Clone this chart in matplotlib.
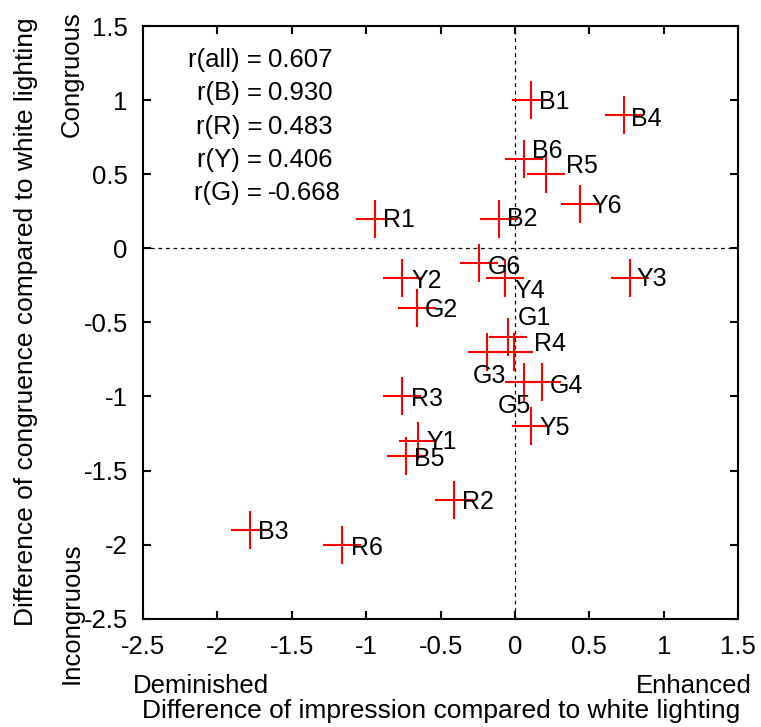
import matplotlib
matplotlib.use("Agg")
import matplotlib.pyplot as plt

plt.rcParams['font.family'] = ['Liberation Sans', 'DejaVu Sans']

# stimulus labels and values
names = ['B1', 'B2', 'B3', 'B4', 'B5', 'B6',
         'R1', 'R2', 'R3', 'R4', 'R5', 'R6',
         'Y1', 'Y2', 'Y3', 'Y4', 'Y5', 'Y6',
         'G1', 'G2', 'G3', 'G4', 'G5', 'G6']
impression = [0.11, -0.11, -1.78, 0.73, -0.73, 0.06,
              -0.94, -0.41, -0.76, -0.01, 0.21, -1.16,
              -0.65, -0.76, 0.77, -0.07, 0.11, 0.44,
              -0.05, -0.66, -0.19, 0.18, 0.06, -0.24]
congruence = [1.0, 0.2, -1.9, 0.9, -1.4, 0.6,
              0.2, -1.7, -1.0, -0.7, 0.5, -2.0,
              -1.3, -0.2, -0.2, -0.2, -1.2, 0.3,
              -0.6, -0.4, -0.7, -0.9, -0.9, -0.1]

r_names = ['r(all) =', 'r(B) =', 'r(R) =', 'r(Y) =', 'r(G) =']
r_values = ['0.607', '0.930', '0.483', '0.406', '-0.668']

ticks = [-2.5, -2, -1.5, -1, -0.5, 0, 0.5, 1, 1.5]
tick_labels = ['-2.5', '-2', '-1.5', '-1', '-0.5', '0', '0.5', '1', '1.5']

# label offsets in pixels (dx, dy) from the cross centre
offsets = [(8, -4), (8, -2), (8, -4), (7, -6), (8, -5), (8, 6),
           (8, -3), (8, -4), (9, -5), (20, 6), (20, 6), (9, -5),
           (8, -3), (10, -5), (7, -3), (10, -15), (8, -4), (11, -4),
           (10, 17), (8, -4), (-14, -26), (8, -6), (-26, -26), (8, -6)]

fs = 18.5   # axis text
fs_pt = 18  # point labels

fig = plt.figure(figsize=(7.61, 7.27), dpi=100)
ax = fig.add_axes([0.188, 0.149, 0.782, 0.815])

ax.axvline(0, color='black', lw=0.9, ls=(0, (3, 3)), zorder=1)
ax.axhline(0, color='black', lw=0.9, ls=(0, (3, 3)), zorder=1)

ax.plot(impression, congruence, ls='none', marker='+', ms=27, mew=1.5,
        color='red', zorder=3)

for n, x, y, (dx, dy) in zip(names, impression, congruence, offsets):
    ax.annotate(n, (x, y), xytext=(dx * 0.72, dy * 0.72 + 1.5),
                textcoords='offset points', ha='left', va='center',
                fontsize=fs_pt, zorder=4)

ys = [1.271, 1.048, 0.819, 0.596, 0.373]
for lab, val, y in zip(r_names, r_values, ys):
    ax.text(-1.70, y, lab, ha='right', va='center', fontsize=fs)
    ax.text(-1.66, y, val, ha='left', va='center', fontsize=fs)

ax.set_xlim(-2.5, 1.5)
ax.set_ylim(-2.5, 1.5)
ax.set_xticks(ticks)
ax.set_xticklabels(tick_labels)
ax.set_yticks(ticks)
ax.set_yticklabels(tick_labels)
ax.tick_params(direction='in', length=6, width=1.5, labelsize=fs,
               top=True, right=True)
ax.tick_params(axis='x', pad=12)
ax.tick_params(axis='y', pad=11)
for s in ax.spines.values():
    s.set_linewidth(1.5)

fig.text(441 / 761, 1 - 711 / 727,
         'Difference of impression compared to white lighting',
         ha='center', va='center', fontsize=fs + 0.5)
fig.text(133 / 761, 1 - 686 / 727, 'Deminished', ha='left', va='center', fontsize=fs)
fig.text(752 / 761, 1 - 686 / 727, 'Enhanced', ha='right', va='center', fontsize=fs)
fig.text(26 / 761, 1 - 322 / 727,
         'Difference of congruence compared to white lighting',
         ha='center', va='center', rotation=90, fontsize=fs + 0.5)
fig.text(72 / 761, 1 - 74 / 727, 'Congruous', ha='center', va='center',
         rotation=90, fontsize=fs)
fig.text(72 / 761, 1 - 613 / 727, 'Incongruous', ha='center', va='center',
         rotation=90, fontsize=fs)

fig.savefig('out.png', dpi=100)
